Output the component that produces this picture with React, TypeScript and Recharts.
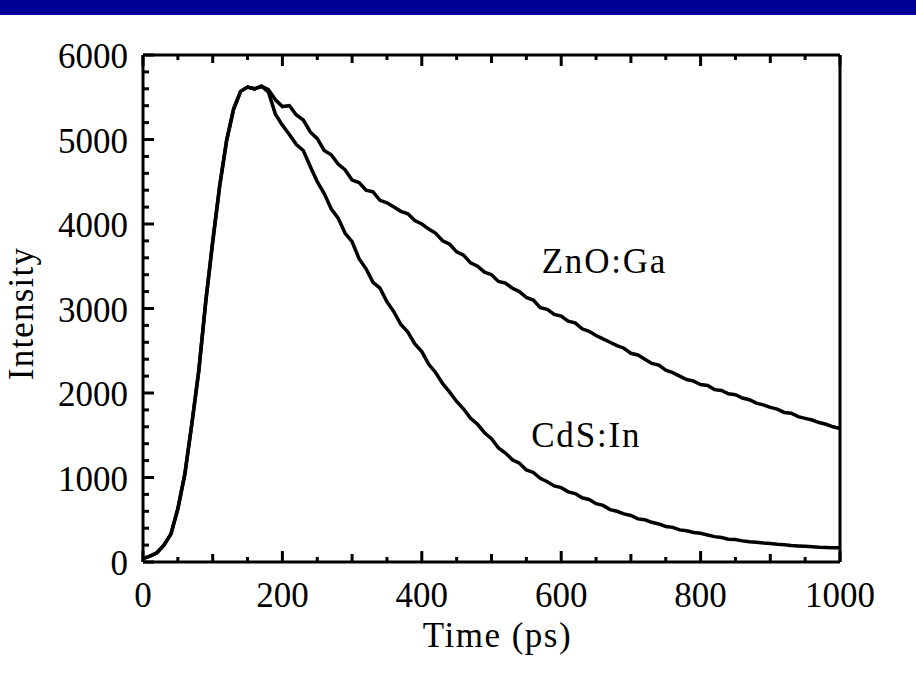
import React from 'react';
import { LineChart, Line, XAxis, YAxis, ReferenceDot } from 'recharts';

// time axis in ps, 10 ps steps
const time = [
  0, 10, 20, 30, 40, 50, 60, 70, 80, 90,
  100, 110, 120, 130, 140, 150, 160, 170, 180, 190,
  200, 210, 220, 230, 240, 250, 260, 270, 280, 290,
  300, 310, 320, 330, 340, 350, 360, 370, 380, 390,
  400, 410, 420, 430, 440, 450, 460, 470, 480, 490,
  500, 510, 520, 530, 540, 550, 560, 570, 580, 590,
  600, 610, 620, 630, 640, 650, 660, 670, 680, 690,
  700, 710, 720, 730, 740, 750, 760, 770, 780, 790,
  800, 810, 820, 830, 840, 850, 860, 870, 880, 890,
  900, 910, 920, 930, 940, 950, 960, 970, 980, 990,
  1000,
];

const znoGa = [
  40, 70, 110, 200, 330, 630, 1040, 1630, 2260, 3080,
  3790, 4450, 4990, 5360, 5570, 5620, 5600, 5630, 5590, 5470,
  5390, 5400, 5290, 5230, 5090, 5010, 4870, 4820, 4710, 4640,
  4520, 4490, 4400, 4380, 4280, 4250, 4200, 4150, 4120, 4040,
  4000, 3940, 3890, 3800, 3760, 3670, 3630, 3540, 3500, 3430,
  3400, 3320, 3300, 3240, 3200, 3130, 3100, 3010, 2990, 2930,
  2910, 2850, 2830, 2760, 2730, 2680, 2640, 2600, 2560, 2530,
  2470, 2450, 2400, 2350, 2330, 2270, 2240, 2200, 2160, 2140,
  2100, 2090, 2040, 2030, 1990, 1980, 1940, 1920, 1880, 1860,
  1830, 1810, 1770, 1760, 1720, 1700, 1680, 1650, 1630, 1600,
  1580,
];

const cdsIn = [
  40, 70, 110, 200, 330, 630, 1040, 1630, 2260, 3080,
  3790, 4450, 4990, 5360, 5570, 5620, 5600, 5630, 5560, 5300,
  5170, 5060, 4940, 4870, 4680, 4500, 4360, 4180, 4070, 3890,
  3790, 3590, 3470, 3310, 3240, 3080, 2960, 2810, 2720, 2580,
  2490, 2340, 2240, 2110, 2010, 1900, 1810, 1700, 1630, 1530,
  1460, 1350, 1290, 1210, 1170, 1090, 1060, 990, 950, 900,
  880, 830, 810, 760, 740, 690, 670, 620, 600, 570,
  550, 510, 500, 470, 450, 420, 410, 380, 370, 350,
  340, 320, 300, 290, 270, 265, 250, 240, 235, 225,
  220, 210, 205, 195, 190, 185, 180, 175, 172, 170,
  168,
];

const xTicks = [
  0, 50, 100, 150, 200, 250, 300, 350, 400, 450, 500,
  550, 600, 650, 700, 750, 800, 850, 900, 950, 1000,
];
const yTicks = [
  0, 200, 400, 600, 800, 1000, 1200, 1400, 1600, 1800, 2000,
  2200, 2400, 2600, 2800, 3000, 3200, 3400, 3600, 3800, 4000,
  4200, 4400, 4600, 4800, 5000, 5200, 5400, 5600, 5800, 6000,
];

const data = time.map((t, i) => ({ t, zno: znoGa[i], cds: cdsIn[i] }));

const FONT = '"Liberation Serif", "Times New Roman", serif';
const FS = 35;

// plot box (from chart size and margins below)
const W = 916;
const H = 673;
const M = { top: 50, right: 70, bottom: 51, left: 43 };
const Y_W = 100;
const X_H = 60;
const TOP_H = 5;
const RIGHT_W = 6;
const LEFT = M.left + Y_W;
const RIGHT = W - M.right - RIGHT_W;
const TOP = M.top + TOP_H;
const BOTTOM = H - M.bottom - X_H;

const xLen = (v: number) => (v % 200 === 0 ? 11 : v % 100 === 0 ? 8 : 5);
const yLen = (v: number) => (v % 1000 === 0 ? 11 : 6);

const BottomTick = (props: any) => {
  const { x, payload } = props;
  const v = payload.value;
  return (
    <g>
      <line x1={x} y1={BOTTOM} x2={x} y2={BOTTOM - xLen(v)} stroke="#000" strokeWidth={3} />
      {v % 200 === 0 && (
        <text x={x} y={BOTTOM + 45} textAnchor="middle" fontFamily={FONT} fontSize={FS} fill="#000">
          {v}
        </text>
      )}
    </g>
  );
};

const TopTick = (props: any) => {
  const { x, payload } = props;
  return <line x1={x} y1={TOP} x2={x} y2={TOP + xLen(payload.value)} stroke="#000" strokeWidth={3} />;
};

const LeftTick = (props: any) => {
  const { y, payload } = props;
  const v = payload.value;
  return (
    <g>
      <line x1={LEFT} y1={y} x2={LEFT + yLen(v)} y2={y} stroke="#000" strokeWidth={3} />
      {v % 1000 === 0 && (
        <text x={LEFT - 15} y={y + 13} textAnchor="end" fontFamily={FONT} fontSize={FS} fill="#000">
          {v}
        </text>
      )}
    </g>
  );
};

const RightTick = (props: any) => {
  const { y, payload } = props;
  return <line x1={RIGHT} y1={y} x2={RIGHT - yLen(payload.value)} y2={y} stroke="#000" strokeWidth={3} />;
};

const tagShape = (text: string) => (p: any) => (
  <text
    x={p.cx}
    y={p.cy}
    textAnchor="start"
    fontFamily={FONT}
    fontSize={FS}
    letterSpacing={1.8}
    fill="#000"
  >
    {text}
  </text>
);

export default function App() {
  const axisLine = { stroke: '#000', strokeWidth: 3 };
  return (
    <div style={{ position: 'absolute', left: 0, top: 0, width: W, height: H, background: '#fff' }}>
      <div style={{ position: 'absolute', left: 0, top: 0, width: W, height: 15, background: '#000099' }} />
      <LineChart width={W} height={H} data={data} margin={M}>
        <XAxis
          dataKey="t"
          type="number"
          domain={[0, 1000]}
          ticks={xTicks}
          interval={0}
          height={X_H}
          axisLine={axisLine}
          tickLine={false}
          tickSize={0}
          tickMargin={0}
          tick={<BottomTick />}
          label={{
            content: () => (
              <text
                x={(LEFT + RIGHT) / 2 + 6}
                y={BOTTOM + 85}
                textAnchor="middle"
                fontFamily={FONT}
                fontSize={FS}
                letterSpacing={1.5}
                fill="#000"
              >
                Time (ps)
              </text>
            ),
          }}
        />
        <XAxis
          xAxisId="top"
          orientation="top"
          dataKey="t"
          type="number"
          domain={[0, 1000]}
          ticks={xTicks}
          interval={0}
          height={TOP_H}
          axisLine={axisLine}
          tickLine={false}
          tickSize={0}
          tickMargin={0}
          tick={<TopTick />}
        />
        <YAxis
          type="number"
          domain={[0, 6000]}
          ticks={yTicks}
          interval={0}
          width={Y_W}
          axisLine={axisLine}
          tickLine={false}
          tickSize={0}
          tickMargin={0}
          tick={<LeftTick />}
          label={{
            content: () => {
              const cx = 33;
              const cy = (TOP + BOTTOM) / 2 + 5;
              return (
                <text
                  x={cx}
                  y={cy}
                  transform={`rotate(-90, ${cx}, ${cy})`}
                  textAnchor="middle"
                  fontFamily={FONT}
                  fontSize={FS}
                  letterSpacing={1.2}
                  fill="#000"
                >
                  Intensity
                </text>
              );
            },
          }}
        />
        <YAxis
          yAxisId="right"
          orientation="right"
          type="number"
          domain={[0, 6000]}
          ticks={yTicks}
          interval={0}
          width={RIGHT_W}
          axisLine={axisLine}
          tickLine={false}
          tickSize={0}
          tickMargin={0}
          tick={<RightTick />}
        />
        <Line
          type="linear"
          dataKey="zno"
          stroke="#000"
          strokeWidth={3.5}
          dot={false}
          isAnimationActive={false}
        />
        <Line
          type="linear"
          dataKey="cds"
          stroke="#000"
          strokeWidth={3.5}
          dot={false}
          isAnimationActive={false}
        />
        <ReferenceDot x={572} y={3420} r={0} shape={tagShape('ZnO:Ga')} />
        <ReferenceDot x={557} y={1361} r={0} shape={tagShape('CdS:In')} />
      </LineChart>
    </div>
  );
}
